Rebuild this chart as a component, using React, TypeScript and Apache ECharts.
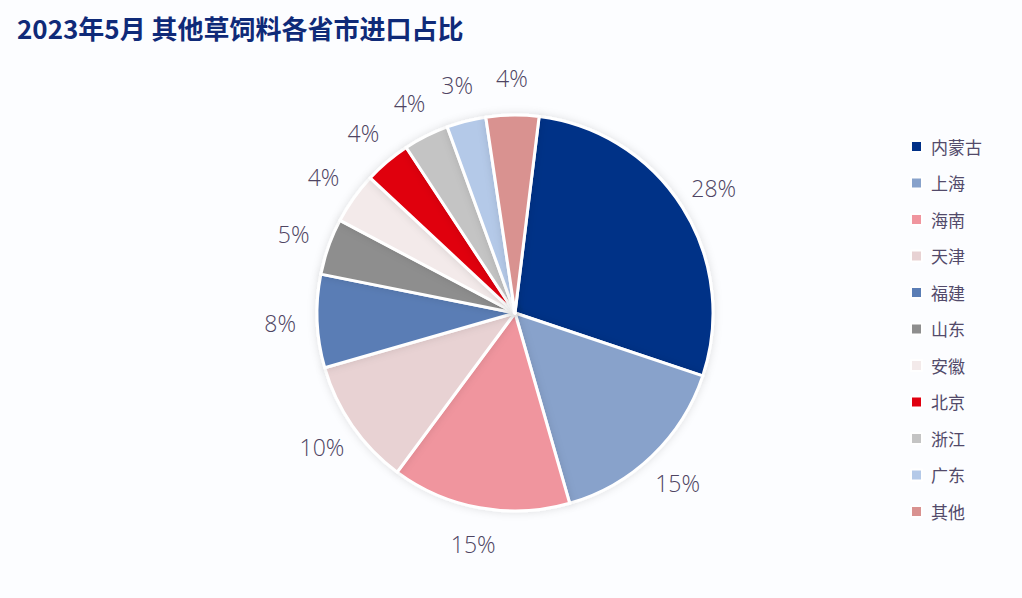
import React, { useEffect, useRef } from 'react';
import * as echarts from 'echarts';

const provinces = ['内蒙古', '上海', '海南', '天津', '福建', '山东', '安徽', '北京', '浙江', '广东', '其他'];
const shares = [28.2, 15.4, 14.6, 10.4, 7.6, 4.6, 4.2, 3.8, 3.7, 3.2, 4.3];
const sliceColors = [
  '#003087', '#88a2cb', '#f0959e', '#e8d2d3', '#5a7db5', '#8e8e8e',
  '#f3eaea', '#e00010', '#c4c4c4', '#b4c9e8', '#d99290'
];

const App: React.FC = () => {
  const chartRef = useRef<HTMLDivElement>(null);

  useEffect(() => {
    if (!chartRef.current) return;
    const chart = echarts.init(chartRef.current, undefined, { renderer: 'svg' });

    const pieData = provinces.map((p, i) => ({
      name: p,
      value: shares[i],
      itemStyle: { color: sliceColors[i] }
    }));

    const option = {
      animation: false,
      backgroundColor: '#fcfdff',
      title: {
        text: '2023年5月 其他草饲料各省市进口占比',
        left: 12,
        top: 9,
        textStyle: {
          color: '#0f2a78',
          fontSize: 26,
          fontWeight: 'bold',
          fontFamily: '"Noto Sans CJK SC", sans-serif'
        }
      },
      legend: {
        orient: 'vertical',
        left: 905,
        top: 133,
        itemGap: 19.5,
        itemWidth: 11,
        itemHeight: 11,
        icon: 'rect',
        textStyle: {
          color: '#524a6a',
          fontSize: 17,
          fontFamily: '"Noto Sans CJK SC", sans-serif',
          padding: [0, 0, 0, 4]
        },
        data: provinces
      },
      series: [
        {
          name: '进口占比',
          type: 'pie',
          center: [515, 313],
          radius: 198,
          startAngle: 83,
          clockwise: true,
          percentPrecision: 0,
          itemStyle: {
            borderColor: '#ffffff',
            borderWidth: 3,
            shadowBlur: 8,
            shadowColor: 'rgba(0,0,0,0.12)'
          },
          label: { show: false },
          labelLine: { show: false },
          emphasis: { disabled: true },
          data: pieData
        },
        {
          // transparent ring used only to place the percent labels around the pie
          name: '标签',
          type: 'pie',
          center: [515, 313],
          radius: [218, 246],
          startAngle: 83,
          clockwise: true,
          percentPrecision: 0,
          silent: true,
          itemStyle: { color: 'rgba(0,0,0,0)' },
          label: {
            show: true,
            position: 'inside',
            formatter: '{d}%',
            color: '#4e4462',
            fontSize: 23,
            fontWeight: 300,
            fontFamily: '"Open Sans", sans-serif'
          },
          labelLine: { show: false },
          emphasis: { disabled: true },
          data: provinces.map((p, i) => ({ name: p, value: shares[i] }))
        }
      ]
    };

    chart.setOption(option);
    return () => chart.dispose();
  }, []);

  return (
    <div
      ref={chartRef}
      style={{ position: 'fixed', left: 0, top: 0, width: 1022, height: 598 }}
    />
  );
};

export default App;
